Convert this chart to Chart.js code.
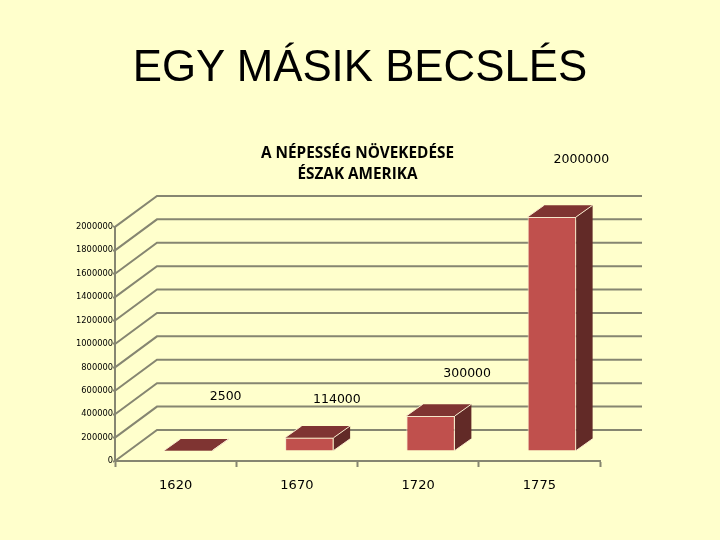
<!DOCTYPE html>
<html>
<head>
<meta charset="utf-8">
<title>EGY MÁSIK BECSLÉS</title>
<script src="https://cdn.jsdelivr.net/npm/chart.js@4"></script>
<style>
    html, body { margin: 0; padding: 0; background: #ffffcc; }
    #lap { position: relative; width: 720px; height: 540px; overflow: hidden; }
    h1 {
        position: absolute; left: 0; top: 41px; width: 720px; margin: 0;
        text-align: center; font: normal 43.8px "Liberation Sans", Arial, sans-serif; color: #000;
    }
    canvas { position: absolute; left: 0; top: 0; }
</style>
</head>
<body>
<div id="lap">
    <canvas id="grafikon" width="720" height="540"></canvas>
    <h1>EGY MÁSIK BECSLÉS</h1>
</div>
<script>
const evek = ['1620', '1670', '1720', '1775'];
const nepesseg = [2500, 114000, 300000, 2000000];
const yTicks = [0, 200000, 400000, 600000, 800000, 1000000, 1200000, 1400000, 1600000, 1800000, 2000000];
const cimSorok = ['A NÉPESSÉG NÖVEKEDÉSE', 'ÉSZAK AMERIKA'];

// hol van a felirat az oszlop tetejehez kepest (kezzel igazitva)
const cimkeEltolas = [[50, -64], [40, -48], [49, -52], [42, -67]];

const racsSzin = '#868671';
const fal = { dx: 42, dy: -31 };      // hatso fal eltolasa
const oszlop = { dx: 12.5, dy: -10 }; // oszlop eleje a padlon
const mely = { dx: 16.5, dy: -11.7 }; // oszlop melysege
const elSzin = '#f6e8cc';

function lap(ctx, pontok, szin) {
    ctx.fillStyle = szin;
    ctx.beginPath();
    pontok.forEach((p, i) => i ? ctx.lineTo(p[0], p[1]) : ctx.moveTo(p[0], p[1]));
    ctx.closePath();
    ctx.fill();
}

function vonal(ctx, x1, y1, x2, y2) {
    ctx.beginPath();
    ctx.moveTo(x1, y1);
    ctx.lineTo(x2, y2);
    ctx.stroke();
}

const terPlugin = {
    id: 'ter',
    // racs a hatso falon + ferde vonalak a bal falon
    beforeDatasetsDraw(chart) {
        const { ctx, chartArea, scales } = chart;
        ctx.save();
        ctx.strokeStyle = racsSzin;
        ctx.lineWidth = 2;
        yTicks.forEach(v => {
            const y = scales.y.getPixelForValue(v);
            ctx.beginPath();
            ctx.moveTo(chartArea.left, y);
            ctx.lineTo(chartArea.left + fal.dx, y + fal.dy);
            ctx.lineTo(chartArea.right + fal.dx, y + fal.dy);
            ctx.stroke();
        });

        // oszlopok teteje es oldala
        chart.getDatasetMeta(0).data.forEach(el => {
            const bal = el.x - el.width / 2 + oszlop.dx;
            const jobb = el.x + el.width / 2 + oszlop.dx;
            const fent = el.y + oszlop.dy;
            const lent = el.base + oszlop.dy;
            lap(ctx, [[bal, fent], [jobb, fent], [jobb + mely.dx, fent + mely.dy], [bal + mely.dx, fent + mely.dy]], '#7f3432');
            lap(ctx, [[jobb, fent], [jobb + mely.dx, fent + mely.dy], [jobb + mely.dx, lent + mely.dy], [jobb, lent]], '#622a27');
            ctx.strokeStyle = elSzin;
            ctx.lineWidth = 1;
            vonal(ctx, jobb, fent, jobb + mely.dx, fent + mely.dy);
            vonal(ctx, jobb, lent, jobb + mely.dx, lent + mely.dy);
            vonal(ctx, bal, fent, bal + mely.dx, fent + mely.dy);
        });
        ctx.restore();
    },
    beforeDatasetDraw(chart) {
        chart.ctx.save();
        chart.ctx.translate(oszlop.dx, oszlop.dy);
    },
    afterDatasetDraw(chart) {
        chart.ctx.restore();
    },
    afterDatasetsDraw(chart) {
        const { ctx } = chart;
        ctx.save();
        ctx.fillStyle = '#000';
        ctx.font = '12.5px "DejaVu Sans"';
        ctx.textAlign = 'center';
        ctx.textBaseline = 'middle';
        chart.getDatasetMeta(0).data.forEach((el, i) => {
            ctx.fillText(String(nepesseg[i]), el.x + cimkeEltolas[i][0], el.y + cimkeEltolas[i][1]);
        });
        ctx.restore();
    }
};

new Chart(document.getElementById('grafikon').getContext('2d'), {
    type: 'bar',
    data: {
        labels: evek,
        datasets: [{
            data: nepesseg,
            backgroundColor: '#c0504d',
            borderColor: elSzin,
            borderWidth: 1,
            categoryPercentage: 1,
            barPercentage: 0.4
        }]
    },
    plugins: [terPlugin],
    options: {
        responsive: false,
        animation: false,
        layout: { padding: { left: 0, right: 120, top: 143, bottom: 0 } },
        plugins: {
            legend: { display: false },
            tooltip: { enabled: false },
            title: {
                display: true,
                text: cimSorok,
                fullSize: false,
                color: '#000',
                font: { family: '"Open Sans"', size: 15.3, weight: 'bold', lineHeight: 1.37 },
                padding: { top: 0, bottom: 42 }
            }
        },
        scales: {
            x: {
                afterFit(scale) { scale.height = 79; },
                grid: { drawOnChartArea: false, drawTicks: true, tickLength: 6, tickColor: racsSzin, tickWidth: 2 },
                border: { color: racsSzin, width: 2 },
                ticks: { color: '#000', font: { family: '"DejaVu Sans"', size: 13 }, padding: 11, maxRotation: 0 }
            },
            y: {
                min: 0,
                max: 2000000,
                afterFit(scale) { scale.width = 115; },
                afterBuildTicks(scale) { scale.ticks = yTicks.map(value => ({ value })); },
                grid: { drawOnChartArea: false, drawTicks: true, tickLength: 2, tickColor: racsSzin, tickWidth: 2 },
                border: { color: racsSzin, width: 2 },
                ticks: { color: '#000', font: { family: '"DejaVu Sans"', size: 8.3 }, padding: 0, callback: v => String(v) }
            }
        }
    }
});
</script>
</body>
</html>
